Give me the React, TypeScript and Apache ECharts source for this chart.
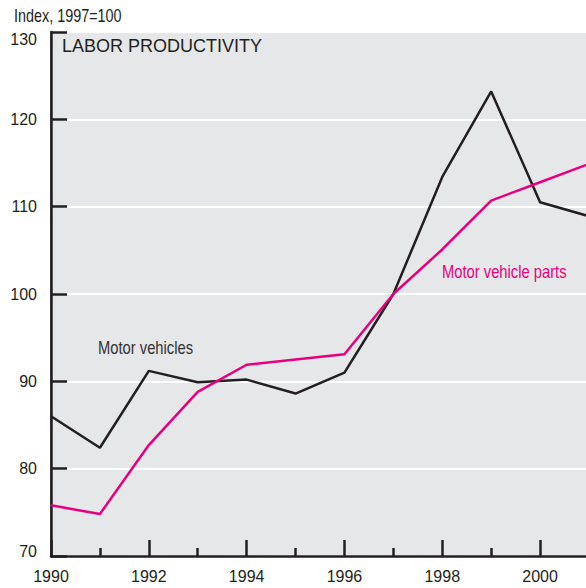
import React, { useEffect, useRef } from "react";
import * as echarts from "echarts";

const years = [1990, 1991, 1992, 1993, 1994, 1995, 1996, 1997, 1998, 1999, 2000, 2001];
const motorVehicles = [86.0, 82.4, 91.2, 89.9, 90.2, 88.6, 91.0, 100.0, 113.4, 123.2, 110.5, 108.9];
const motorVehicleParts = [75.8, 74.8, 82.7, 88.8, 91.9, 92.5, 93.1, 100.0, 105.1, 110.7, 112.8, 114.9];
const yTicks = [70, 80, 90, 100, 110, 120, 130];

const REG = '"Liberation Sans", Arial, sans-serif';
const INK = "#231f20";
const MAGENTA = "#e6007e";

export default function App() {
  const ref = useRef<HTMLDivElement>(null);
  useEffect(() => {
    document.body.style.margin = "0";
    const chart = echarts.init(ref.current!, null, { renderer: "svg" });
    chart.setOption({
      animation: false,
      backgroundColor: "#ffffff",
      grid: {
        left: 51,
        top: 32,
        right: -3,
        bottom: 32,
        outerBoundsMode: "none",
        containLabel: false,
        show: true,
        backgroundColor: "#e6e7e9",
        borderColor: "#333333",
        borderWidth: 1.5,
      },
      xAxis: {
        type: "value",
        min: years[0],
        max: years[years.length - 1],
        interval: 2,
        axisLine: { show: true, onZero: false, lineStyle: { color: INK, width: 2.5 } },
        axisTick: { show: true, inside: true, length: 16, lineStyle: { color: INK, width: 2.5 } },
        minorTick: { show: true, splitNumber: 2, length: 8, lineStyle: { color: INK, width: 2.5 } },
        splitLine: { show: false },
        axisLabel: {
          margin: 12,
          color: INK,
          fontSize: 16,
          fontFamily: REG,
          showMaxLabel: false,
          formatter: (v: number) => (v % 2 === 0 ? String(v) : ""),
        },
      },
      yAxis: {
        type: "value",
        min: yTicks[0],
        max: yTicks[yTicks.length - 1],
        interval: 10,
        axisLine: { show: true, lineStyle: { color: INK, width: 2.5 } },
        axisTick: { show: true, inside: true, length: 16, lineStyle: { color: INK, width: 2.5 } },
        splitLine: { show: true, lineStyle: { color: "#ffffff", width: 2 } },
        axisLabel: {
          margin: 14,
          color: INK,
          fontSize: 16,
          fontFamily: REG,
          formatter: (v: number) => {
            if (v === 130) return "{top|130}";
            if (v === 70) return "{bot|70}";
            return String(v);
          },
          rich: {
            top: { padding: [14, 0, 0, 0], fontSize: 16, fontFamily: REG, color: INK },
            bot: { padding: [0, 0, 10, 0], fontSize: 16, fontFamily: REG, color: INK },
          },
        },
      },
      series: [
        {
          name: "Motor vehicles",
          type: "line",
          data: years.map((y, i) => [y, motorVehicles[i]]),
          symbol: "none",
          lineStyle: { color: INK, width: 2.5 },
          z: 3,
        },
        {
          name: "Motor vehicle parts",
          type: "line",
          data: years.map((y, i) => [y, motorVehicleParts[i]]),
          symbol: "none",
          lineStyle: { color: MAGENTA, width: 2.5 },
          z: 4,
        },
      ],
      graphic: [
        {
          type: "text",
          x: 14,
          y: 6,
          scaleX: 0.8,
          style: { text: "Index, 1997=100", fontSize: 18, fontFamily: REG, fill: INK },
        },
        {
          type: "text",
          x: 62,
          y: 37,
          style: { text: "LABOR PRODUCTIVITY", fontSize: 18, fontFamily: REG, fill: INK },
        },
        {
          type: "text",
          x: 98,
          y: 338,
          scaleX: 0.82,
          style: { text: "Motor vehicles", fontSize: 18, fontFamily: REG, fill: "#333333" },
        },
        {
          type: "text",
          x: 442,
          y: 262,
          scaleX: 0.82,
          style: { text: "Motor vehicle parts", fontSize: 18, fontFamily: REG, fill: MAGENTA },
        },
      ],
    });
    return () => chart.dispose();
  }, []);
  return <div ref={ref} style={{ width: 586, height: 588 }} />;
}
